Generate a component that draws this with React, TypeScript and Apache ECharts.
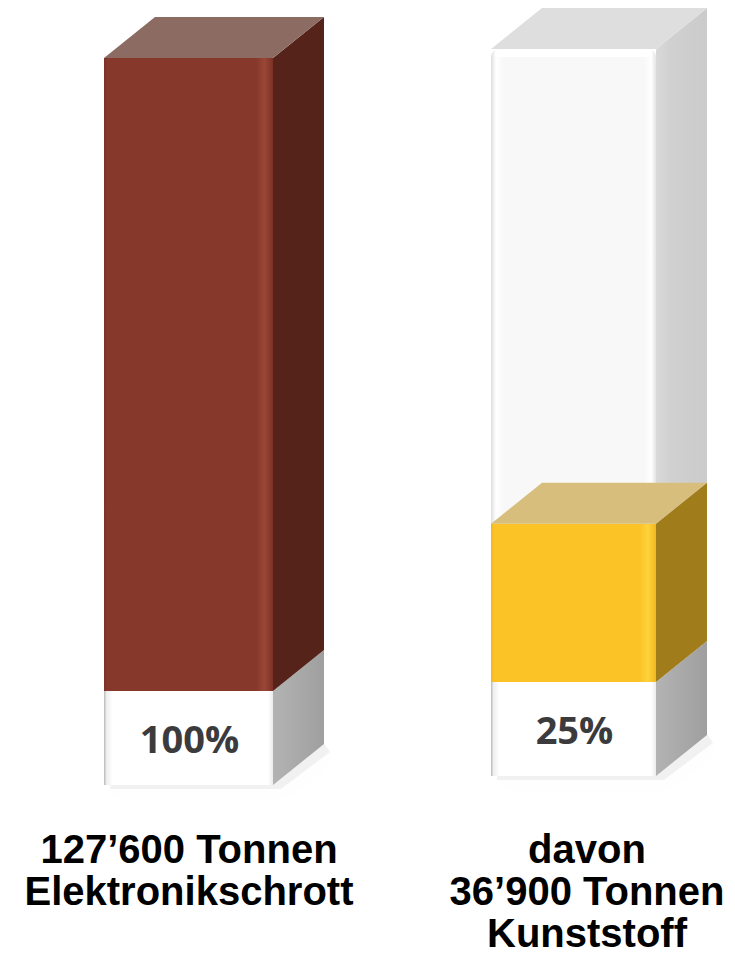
import React, { useEffect, useRef } from "react";
import * as echarts from "echarts";

// ---- data ----
const categories = ["127’600 Tonnen\nElektronikschrott", "davon\n36’900 Tonnen\nKunststoff"];
const tonnes = [127600, 36900];
const shareValues = [100, 25];
const shareLabels = ["100%", "25%"];

// ---- styles ----
const palettes = [
  { front: "#86382a", frontHl: "#9a4636", frontEdge: "#7c3226", side: "#55231a", top: "#8b6b62" },
  { front: "#fbc326", frontHl: "#ffd23c", frontEdge: "#f0b820", side: "#a07c1b", top: "#d7be7d" },
];
const DX = 51;
const DY = 41;
const BASE_H = 94;

const hGrad = (stops: [number, string][]) =>
  new echarts.graphic.LinearGradient(0, 0, 1, 0, stops.map(([offset, color]) => ({ offset, color })));

function makeRenderItem(idx: number) {
  return (params: any, api: any) => {
    const value = api.value(1);
    const [cx, yTop] = api.coord([0, value]);
    const [, y0] = api.coord([0, 0]);
    const [, yFull] = api.coord([0, 100]);
    const w = api.size([1, 0])[0];
    const x1 = cx - w / 2;
    const x2 = cx + w / 2;
    const pal = palettes[idx];
    const children: any[] = [];

    // soft floor shadow
    children.push({
      type: "polygon",
      shape: {
        points: [
          [x1 + 6, y0 + BASE_H - 6],
          [x2, y0 + BASE_H - 6],
          [x2 + DX - 2, y0 + BASE_H - DY - 4],
          [x2 + DX + 6, y0 + BASE_H - DY + 8],
          [x2 + 8, y0 + BASE_H + 4],
          [x1 + 6, y0 + BASE_H + 4],
        ],
      },
      style: { fill: "rgba(0,0,0,0.05)", shadowBlur: 22, shadowColor: "rgba(0,0,0,0.22)", shadowOffsetY: 4 },
    });

    // base side
    children.push({
      type: "polygon",
      shape: { points: [[x2, y0], [x2 + DX, y0 - DY], [x2 + DX, y0 + BASE_H - DY], [x2, y0 + BASE_H]] },
      style: { fill: hGrad([[0, "#b3b3b3"], [1, "#9f9f9f"]]) },
    });
    // base front
    children.push({
      type: "rect",
      shape: { x: x1, y: y0, width: w, height: BASE_H },
      style: {
        fill: hGrad([[0, "#b8b8b8"], [0.015, "#eeeeee"], [0.05, "#ffffff"], [0.97, "#ffffff"], [1, "#ececec"]]),
      },
    });

    // transparent container above the filled part
    if (value < 100) {
      children.push({
        type: "polygon",
        shape: { points: [[x2, yFull], [x2 + DX, yFull - DY], [x2 + DX, y0 - DY], [x2, y0]] },
        style: { fill: hGrad([[0, "#d9d9d9"], [0.3, "#d0d0d0"], [1, "#cbcbcb"]]) },
      });
      children.push({
        type: "rect",
        shape: { x: x1, y: yFull, width: w, height: y0 - yFull, r: [8, 8, 0, 0] },
        style: {
          fill: hGrad([[0, "#dedede"], [0.03, "#ffffff"], [0.08, "#f8f8f8"], [0.93, "#f8f8f8"], [0.97, "#ffffff"], [1, "#e4e4e4"]]),
        },
      });
      children.push({
        type: "polygon",
        shape: { points: [[x1, yFull], [x1 + DX, yFull - DY], [x2 + DX, yFull - DY], [x2, yFull]] },
        style: { fill: "#dedede" },
      });
      children.push({
        type: "rect",
        shape: { x: x1 + 4, y: yFull, width: w - 8, height: 8, r: [6, 6, 0, 0] },
        style: { fill: "#ffffff" },
      });
    }

    // filled bar: side, front, top
    children.push({
      type: "polygon",
      shape: { points: [[x2, yTop], [x2 + DX, yTop - DY], [x2 + DX, y0 - DY], [x2, y0]] },
      style: { fill: pal.side },
    });
    children.push({
      type: "rect",
      shape: { x: x1, y: yTop, width: w, height: y0 - yTop },
      style: {
        fill: hGrad([[0, pal.frontEdge], [0.02, pal.front], [0.9, pal.front], [0.95, pal.frontHl], [1, pal.frontEdge]]),
      },
    });
    children.push({
      type: "polygon",
      shape: { points: [[x1, yTop], [x1 + DX, yTop - DY], [x2 + DX, yTop - DY], [x2, yTop]] },
      style: { fill: pal.top },
    });

    // percentage label on the base
    children.push({
      type: "text",
      style: {
        text: shareLabels[idx],
        x: cx + 1,
        y: y0 + BASE_H / 2,
        align: "center",
        verticalAlign: "middle",
        font: 'bold 38px "Open Sans", "DejaVu Sans", sans-serif',
        fill: "#3b3b3e",
      },
    });

    return { type: "group", children };
  };
}

export default function App() {
  const ref = useRef<HTMLDivElement>(null);

  useEffect(() => {
    document.body.style.margin = "0";
    if (!ref.current) return;
    const chart = echarts.init(ref.current, undefined, { renderer: "svg" });
    const labelFont = 'bold 40px "Liberation Sans", Arial, sans-serif';
    chart.setOption({
      animation: false,
      backgroundColor: "#ffffff",
      grid: [
        { left: 104, width: 169, top: 58, height: 633 },
        { left: 491, width: 165, top: 49, height: 633 },
      ],
      xAxis: [
        { type: "category", gridIndex: 0, data: [categories[0]], show: false },
        { type: "category", gridIndex: 1, data: [categories[1]], show: false },
      ],
      yAxis: [
        { type: "value", gridIndex: 0, min: 0, max: 100, show: false },
        { type: "value", gridIndex: 1, min: 0, max: 100, show: false },
      ],
      series: [0, 1].map((i) => ({
        type: "custom",
        name: categories[i],
        xAxisIndex: i,
        yAxisIndex: i,
        data: [[0, shareValues[i], tonnes[i]]],
        encode: { x: 0, y: 1 },
        renderItem: makeRenderItem(i),
        silent: true,
      })),
      graphic: [
        {
          type: "text",
          x: 189,
          y: 828,
          style: { text: categories[0], font: labelFont, lineHeight: 42, align: "center", verticalAlign: "top", fill: "#000" },
        },
        {
          type: "text",
          x: 587,
          y: 828,
          style: { text: categories[1], font: labelFont, lineHeight: 42, align: "center", verticalAlign: "top", fill: "#000" },
        },
      ],
    });
    return () => chart.dispose();
  }, []);

  return <div ref={ref} style={{ width: 735, height: 970 }} />;
}
